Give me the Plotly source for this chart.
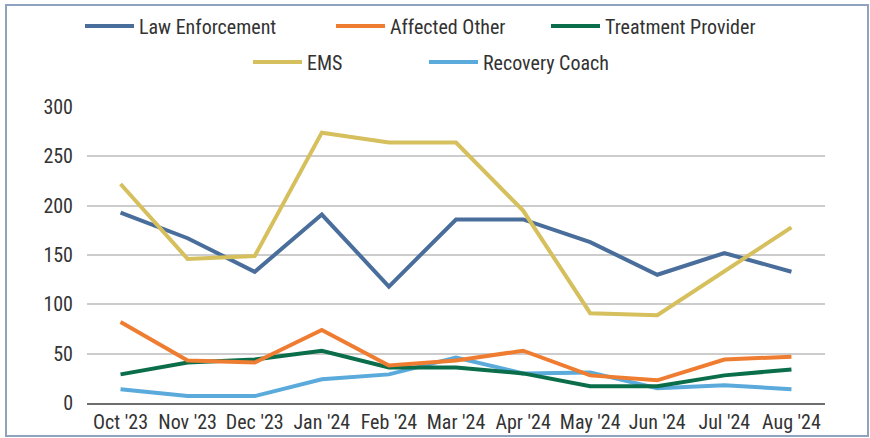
import plotly.graph_objects as go

months = ["Oct '23", "Nov '23", "Dec '23", "Jan '24", "Feb '24", "Mar '24",
          "Apr '24", "May '24", "Jun '24", "Jul '24", "Aug '24"]
law_enforcement = [193, 167, 133, 191, 118, 186, 186, 163, 130, 152, 133]
affected_other = [82, 43, 41, 74, 38, 43, 53, 28, 23, 44, 47]
treatment_provider = [29, 41, 44, 53, 36, 36, 30, 17, 17, 28, 34]
ems = [222, 146, 149, 274, 264, 264, 195, 91, 89, 134, 178]
recovery_coach = [14, 7, 7, 24, 29, 46, 30, 31, 15, 18, 14]
y_ticks = [0, 50, 100, 150, 200, 250, 300]

FONT = "Liberation Sans Narrow, Roboto Condensed, Roboto, sans-serif"

L, R, T, B = 87, 45, 107, 35
W, H = 870, 438
pw, ph = W - L - R, H - T - B

def px(x):
    return (x - L) / pw

def py(y):
    return (H - B - y) / ph

# name, values, colour, legend id, legend left (px), legend row centre (px)
series = [
    ("Law Enforcement", law_enforcement, "#4a6e9b", "legend", 80, 26),
    ("Affected Other", affected_other, "#ef7d31", "legend2", 331, 26),
    ("Treatment Provider", treatment_provider, "#0a6e4b", "legend3", 546, 26),
    ("EMS", ems, "#d6bf5d", "legend4", 248, 62),
    ("Recovery Coach", recovery_coach, "#5aaadb", "legend5", 424, 62),
]

fig = go.Figure()
order = [4, 2, 1, 0, 3]
for i in order:
    name, vals, color, lg, _, _ = series[i]
    fig.add_trace(go.Scatter(x=months, y=vals, name=name, mode="lines",
                             line=dict(color=color, width=4), legend=lg,
                             showlegend=True))

legends = {}
for name, vals, color, lg, lx, ly in series:
    legends[lg] = dict(orientation="h", x=px(lx), xanchor="left",
                       y=py(ly), yanchor="middle", itemwidth=49,
                       font=dict(size=20, family=FONT, color="#333333"),
                       bgcolor="rgba(0,0,0,0)", visible=True)

fig.update_layout(
    width=W, height=H, showlegend=True,
    margin=dict(l=L, r=R, t=T, b=B, autoexpand=False),
    paper_bgcolor="white", plot_bgcolor="white",
    font=dict(family=FONT, color="#333333", size=20),
    xaxis=dict(categoryorder="array", categoryarray=months,
               range=[-0.5, 10.5], showgrid=False,
               showline=True, linecolor="#6e6e6e", linewidth=2,
               ticks="", tickfont=dict(size=20, family=FONT, color="#333333")),
    yaxis=dict(range=[0, 300], tickvals=y_ticks, showgrid=True,
               gridcolor="#cccccc", gridwidth=1.5, zeroline=False,
               ticks="", ticklabelstandoff=13,
               tickfont=dict(size=20, family=FONT, color="#333333")),
    shapes=[dict(type="rect", xref="paper", yref="paper",
                 x0=px(6), x1=px(868), y0=py(436), y1=py(5),
                 line=dict(color="#8fa3bf", width=2), layer="below")],
    **legends,
)

fig.write_html("out.html",
               config={"displayModeBar": False},
               post_script="document.body.style.margin='0px';"
                           "document.body.style.overflow='hidden';")
